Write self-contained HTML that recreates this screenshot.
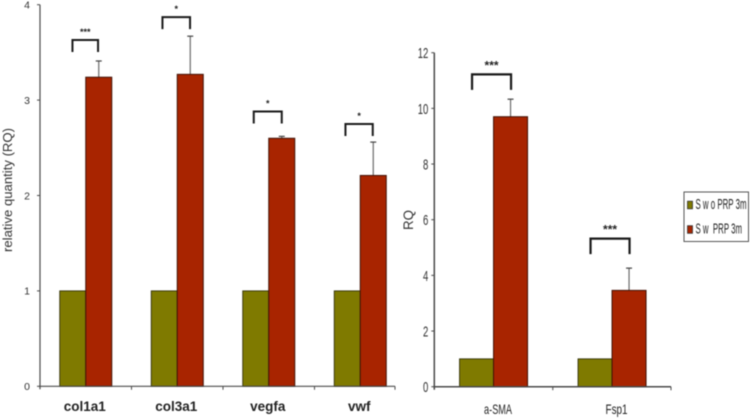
<!DOCTYPE html>
<html lang="en">
<head>
<meta charset="utf-8">
<title>Relative quantity charts</title>
<style>
html,body{margin:0;padding:0;background:#fff;width:750px;height:418px;overflow:hidden}
svg{display:block;font-family:"Liberation Sans",sans-serif;filter:blur(0.4px)}
</style>
</head>
<body>
<svg id="figure" width="750" height="418" viewBox="0 0 750 418" xmlns="http://www.w3.org/2000/svg"></svg>
<script>
// Left chart data
const leftCategories = ['col1a1', 'col3a1', 'vegfa', 'vwf'];
const leftControl = [1, 1, 1, 1];
const leftTreated = [3.24, 3.27, 2.6, 2.21];
const leftErrorTop = [3.41, 3.67, 2.62, 2.56];
const leftStars = ['***', '*', '*', '*'];
const leftBracketTop = [3.63, 3.87, 2.88, 2.75];
const leftTicks = [0, 1, 2, 3, 4];

// Right chart data
const rightCategories = ['a-SMA', 'Fsp1'];
const rightControl = [1, 1];
const rightTreated = [9.7, 3.46];
const rightErrorTop = [10.33, 4.26];
const rightStars = ['***', '***'];
const rightBracketTop = [11.22, 5.32];
const rightTicks = [0, 2, 4, 6, 8, 10, 12];

// Legend data
const legendLabels = ['S w o PRP 3m', 'S w  PRP 3m'];

const GREEN = '#7f7a00';
const RED = '#a82400';
const svg = document.getElementById('figure');
const NS = 'http://www.w3.org/2000/svg';

function mk(tag, attrs, text) {
  const el = document.createElementNS(NS, tag);
  for (const k in attrs) el.setAttribute(k, attrs[k]);
  if (text !== undefined) el.textContent = text;
  svg.appendChild(el);
  return el;
}

function drawChart(c) {
  const y = v => c.y0 - (v / c.max) * (c.y0 - c.yTop);
  const bandX = i => c.x0 + i * c.band;

  // bars, error bars and brackets
  c.categories.forEach((cat, i) => {
    const mid = bandX(i) + c.band * c.centre;
    const errX = mid + c.barW / 2;

    const errLine = mk('line', {x1: errX, x2: errX, y1: y(c.errorTop[i]), y2: y(c.treated[i]), stroke: '#6a6a6a', 'stroke-width': 1.2});
    
    
    const errCap = mk('line', {x1: errX - 3, x2: errX + 3, y1: y(c.errorTop[i]), y2: y(c.errorTop[i]), stroke: '#444', 'stroke-width': 1.2});
    
    

    const ctrlTop = y(c.control[i]);
    const ctrl = mk('rect', {x: mid - c.barW, y: ctrlTop, width: c.barW, height: c.y0 - ctrlTop, fill: GREEN, stroke: '#33330c', 'stroke-width': 0.9});
    
    

    const trtTop = y(c.treated[i]);
    const trt = mk('rect', {x: mid, y: trtTop, width: c.barW, height: c.y0 - trtTop, fill: RED, stroke: '#421206', 'stroke-width': 1});
    
    

    const bt = y(c.bracketTop[i]);
    const bx = mid - c.bracketOffsets[i];
    const bw = c.bracketWidths[i];
    const bracket = mk('path', {d: 'M' + bx + ' ' + (bt + c.bracketH) + 'V' + bt + 'H' + (bx + bw) + 'V' + (bt + c.bracketH), fill: 'none', stroke: '#1a1a1a', 'stroke-width': c.bracketStroke});
    
    

    const star = mk('text', {x: bx + bw / 2, y: bt - c.starGap, 'text-anchor': 'middle', 'font-size': c.starSize, 'font-weight': 'bold', fill: '#222'}, c.stars[i]);
    
    

    const labelAttrs = {x: mid + c.labelShift, y: c.labelY, 'text-anchor': 'middle', 'font-size': c.labelSize, fill: '#222'};
    if (c.labelWeight) labelAttrs['font-weight'] = c.labelWeight;
    if (c.labelLengths) {
      labelAttrs.textLength = c.labelLengths[i];
      labelAttrs.lengthAdjust = 'spacingAndGlyphs';
    }
    const label = mk('text', labelAttrs, cat);
    
    
  });

  // axes
  const yAxis = mk('line', {x1: c.x0, x2: c.x0, y1: c.yTop, y2: c.y0 + 3, stroke: '#4a4a4a', 'stroke-width': c.axisW});
  
  
  const xAxis = mk('line', {x1: c.x0 - 1, x2: c.xEnd, y1: c.y0, y2: c.y0, stroke: '#4a4a4a', 'stroke-width': c.axisW});
  
  

  c.ticks.forEach(t => {
    const tick = mk('line', {x1: c.x0 - 3, x2: c.x0, y1: y(t), y2: y(t), stroke: '#4a4a4a', 'stroke-width': 1});
    
    
    const tickAttrs = {x: c.x0 - c.tickGap, y: y(t) + c.tickSize * 0.36, 'text-anchor': 'end', 'font-size': c.tickSize, fill: '#333'};
    if (c.tickDigitW) {
      tickAttrs.textLength = String(t).length * c.tickDigitW;
      tickAttrs.lengthAdjust = 'spacingAndGlyphs';
    }
    const tl = mk('text', tickAttrs, String(t));
    
    
  });

  for (let i = 1; i <= c.categories.length; i++) {
    const tx = i === c.categories.length ? c.xEnd : bandX(i);
    const xt = mk('line', {x1: tx, x2: tx, y1: c.y0, y2: c.y0 + 3.5, stroke: '#4a4a4a', 'stroke-width': 1});
    
    
  }

  const title = mk('text', {transform: 'translate(' + c.titleX + ' ' + c.titleY + ') rotate(-90)', 'text-anchor': 'middle', 'font-size': c.titleSize, fill: '#333', textLength: c.titleLength, lengthAdjust: 'spacingAndGlyphs'}, c.title);
  
  
}

drawChart({
  id: 'left-chart', categories: leftCategories, control: leftControl, treated: leftTreated,
  errorTop: leftErrorTop, stars: leftStars, bracketTop: leftBracketTop, ticks: leftTicks,
  x0: 40, band: 91.5, xEnd: 395, y0: 386.3, yTop: 4.7, max: 4, centre: 0.5, barW: 26, axisW: 1.2,
  bracketOffsets: [13.3, 14.8, 15, 14.8], bracketWidths: [25.6, 27.6, 28, 27.3],
  bracketH: 12, bracketStroke: 2, starGap: 5, starSize: 9,
  labelY: 411, labelSize: 13.5, labelShift: -1, labelWeight: 'bold',
  tickSize: 10.5, tickGap: 10,
  title: 'relative quantity (RQ)', titleX: 12, titleY: 190, titleSize: 13, titleLength: 124
});

drawChart({
  id: 'right-chart', categories: rightCategories, control: rightControl, treated: rightTreated,
  errorTop: rightErrorTop, stars: rightStars, bracketTop: rightBracketTop, ticks: rightTicks,
  x0: 434.3, band: 118.5, xEnd: 671, y0: 386.7, yTop: 52.7, max: 12, centre: 0.5, barW: 34, axisW: 1.5,
  bracketOffsets: [21.5, 21.5], bracketWidths: [39, 39],
  bracketH: 15.5, bracketStroke: 2.2, starGap: 5, starSize: 12,
  labelY: 414, labelSize: 14, labelShift: 4.5, labelLengths: [28, 22],
  tickSize: 15, tickGap: 6, tickDigitW: 5.3,
  title: 'RQ', titleX: 413, titleY: 220, titleSize: 14, titleLength: 20
});

// Legend
const legendBox = mk('rect', {x: 684, y: 192, width: 64.5, height: 49.5, fill: '#fff', stroke: '#555', 'stroke-width': 1});


const legendColors = [GREEN, RED];
const legendY = [205, 229.5];
legendLabels.forEach((lab, i) => {
  const sw = mk('rect', {x: 687.5, y: legendY[i] - 3.8, width: 5, height: 7.6, fill: legendColors[i], stroke: '#333', 'stroke-width': 0.8});
  
  
  const tx = mk('text', {x: 695.5, y: legendY[i] + 4, 'font-size': 14.5, fill: '#222', textLength: i === 0 ? 51 : 46.5, lengthAdjust: 'spacingAndGlyphs', style: 'white-space:pre'}, lab);
  
  
});
</script>
</body>
</html>
